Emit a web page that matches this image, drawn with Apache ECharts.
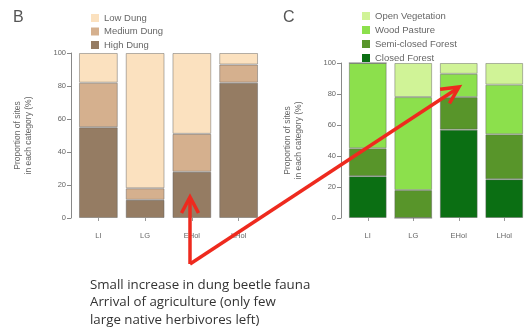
<!DOCTYPE html>
<html><head><meta charset="utf-8">
<script src="https://cdn.jsdelivr.net/npm/echarts@6/dist/echarts.min.js"></script>
<style>html,body{margin:0;padding:0;background:#fff}#c{width:527px;height:332px}</style>
</head><body><div id="c"></div>
<script>
const categories = ['LI', 'LG', 'EHol', 'LHol'];
// Panel B: dung (stacked, bottom to top)
const highDung   = [55, 11, 28, 82];
const mediumDung = [27, 7, 23, 11];
const lowDung    = [18, 82, 49, 7];
// Panel C: vegetation (stacked, bottom to top)
const closedForest     = [27, 0, 57, 25];
const semiClosedForest = [18, 18, 21, 29];
const woodPasture      = [55, 60, 15, 32];
const openVegetation   = [0, 22, 7, 14];
const yTicks = [0, 20, 40, 60, 80, 100];
const annotation = ['Small increase in dung beetle fauna', 'Arrival of agriculture (only few', 'large native herbivores left)'];

const chart = echarts.init(document.getElementById('c'));
const tickFont = {fontFamily: 'Liberation Sans', fontSize: 7.5, color: '#666'};
function yAx(gi) {
  return {type: 'value', gridIndex: gi, min: 0, max: 100, interval: 20, offset: 4,
    axisLine: {show: true, lineStyle: {color: '#888', width: 1}},
    axisTick: {show: true, length: 4, lineStyle: {color: '#888'}},
    axisLabel: Object.assign({margin: 5, formatter: v => yTicks.includes(v) ? String(v) : ''}, tickFont),
    splitLine: {show: false},
    name: 'Proportion of sites\nin each category (%)', nameLocation: 'middle', nameRotate: 90, nameGap: 37,
    nameTextStyle: {fontFamily: 'Liberation Sans', fontSize: 8.5, color: '#666', lineHeight: 11}};
}
function xAx(gi) {
  return {type: 'category', gridIndex: gi, data: categories, offset: 2,
    axisLine: {show: false}, axisTick: {show: true, alignWithLabel: true, length: 3, lineStyle: {color: '#999'}},
    axisLabel: Object.assign({margin: 12}, tickFont)};
}
const border = {borderColor: 'rgba(90,90,90,0.45)', borderWidth: 1};
function bar(name, data, color, gi, stack) {
  return {type: 'bar', name, data, stack, xAxisIndex: gi, yAxisIndex: gi, barCategoryGap: '17%',
    itemStyle: Object.assign({color}, border), emphasis: {disabled: true}};
}
const legendText = {fontFamily: 'Liberation Sans', fontSize: 9.5, color: '#666', lineHeight: 10};

// arrow geometry (annotation)
const red = '#EE2A1E';
function head(tx, ty, fx, fy, L, W) {
  const dx = tx - fx, dy = ty - fy, len = Math.hypot(dx, dy), ux = dx/len, uy = dy/len;
  const bx = tx - ux*L, by = ty - uy*L, nx = -uy*W, ny = ux*W;
  return [[bx+nx, by+ny], [tx, ty], [bx-nx, by-ny]];
}

chart.setOption({
  animation: false,
  grid: [
    {left: 75, top: 53, width: 187, height: 165},
    {left: 345, top: 63, width: 188, height: 155}
  ],
  xAxis: [xAx(0), xAx(1)],
  yAxis: [yAx(0), yAx(1)],
  legend: [
    {data: ['Low Dung', 'Medium Dung', 'High Dung'], orient: 'vertical', left: 86, top: 8,
     itemWidth: 8, itemHeight: 8, itemGap: 3.5, icon: 'rect', textStyle: legendText, selectedMode: false,
     itemStyle: {borderWidth: 0}},
    {data: ['Open Vegetation', 'Wood Pasture', 'Semi-closed Forest', 'Closed Forest'], orient: 'vertical', left: 357, top: 6,
     itemWidth: 8, itemHeight: 8, itemGap: 4, icon: 'rect', textStyle: legendText, selectedMode: false,
     itemStyle: {borderWidth: 0}}
  ],
  series: [
    bar('High Dung', highDung, '#957C63', 0, 'b'),
    bar('Medium Dung', mediumDung, '#D5B08E', 0, 'b'),
    bar('Low Dung', lowDung, '#FBE1BF', 0, 'b'),
    bar('Closed Forest', closedForest, '#0B6F13', 1, 'c'),
    bar('Semi-closed Forest', semiClosedForest, '#58952A', 1, 'c'),
    bar('Wood Pasture', woodPasture, '#8CE04C', 1, 'c'),
    bar('Open Vegetation', openVegetation, '#D0F397', 1, 'c')
  ],
  graphic: [
    {type: 'text', left: 13, top: 10, style: {text: 'B', font: '16px "Liberation Sans"', fill: '#555'}},
    {type: 'text', left: 283, top: 10, style: {text: 'C', font: '16px "Liberation Sans"', fill: '#555'}},
    {type: 'line', shape: {x1: 190, y1: 264, x2: 190, y2: 199}, style: {stroke: red, lineWidth: 3.5}, z: 100},
    {type: 'polyline', shape: {points: head(190, 197, 190, 264, 16, 8.5)}, style: {stroke: red, lineWidth: 3.5, fill: null}, z: 100},
    {type: 'line', shape: {x1: 190, y1: 264, x2: 458, y2: 88}, style: {stroke: red, lineWidth: 3.5}, z: 100},
    {type: 'polyline', shape: {points: head(459, 87, 190, 264, 17, 8.5)}, style: {stroke: red, lineWidth: 3.5, fill: null}, z: 100},
    {type: 'text', left: 90, top: 276, style: {text: annotation.join('\n'), font: '13.3px "Open Sans"', lineHeight: 17.5, fill: '#333'}}
  ]
});
</script></body></html>
